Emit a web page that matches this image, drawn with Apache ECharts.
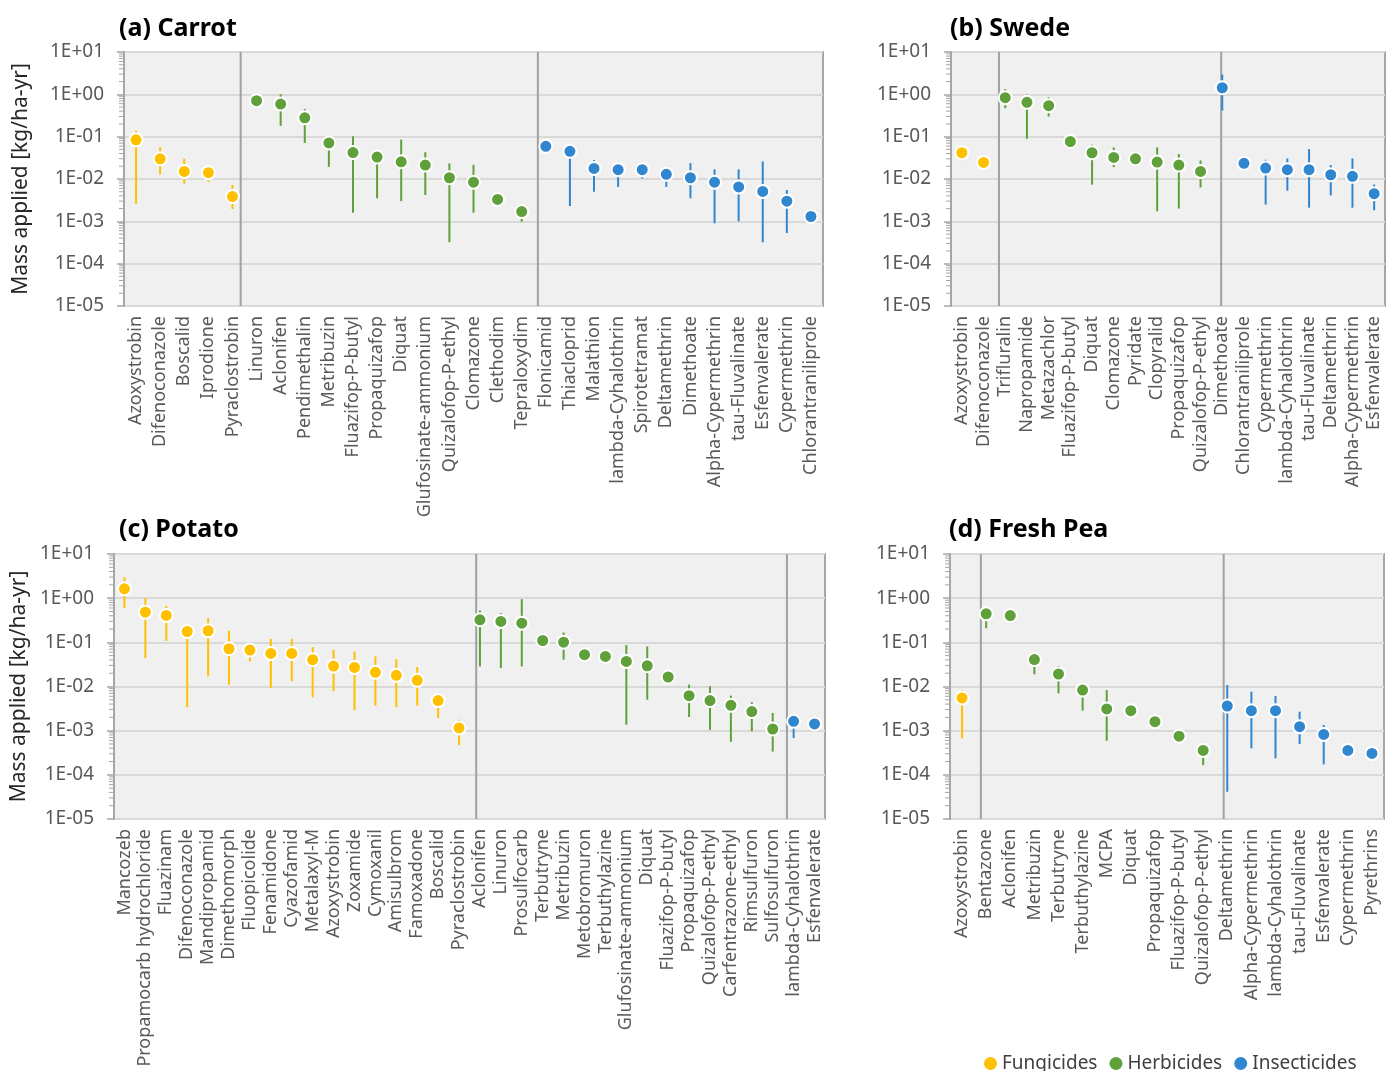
<!DOCTYPE html>
<html><head><meta charset="utf-8">
<script src="https://cdn.jsdelivr.net/npm/echarts@6/dist/echarts.min.js"></script>
<style>html,body{margin:0;padding:0;background:#fff}#c{width:1386px;height:1071px}</style>
</head><body><div id="c"></div>
<script>
// ---------- DATA ----------
const classNames = ['Fungicides', 'Herbicides', 'Insecticides'];

// (a) Carrot
const carrotCategories = ['Azoxystrobin','Difenoconazole','Boscalid','Iprodione','Pyraclostrobin','Linuron','Aclonifen','Pendimethalin','Metribuzin','Fluazifop-P-butyl','Propaquizafop','Diquat','Glufosinate-ammonium','Quizalofop-P-ethyl','Clomazone','Clethodim','Tepraloxydim','Flonicamid','Thiacloprid','Malathion','lambda-Cyhalothrin','Spirotetramat','Deltamethrin','Dimethoate','Alpha-Cypermethrin','tau-Fluvalinate','Esfenvalerate','Cypermethrin','Chlorantraniliprole'];
const carrotGroups = [5, 12, 12];
const carrotValues = [0.084,0.030,0.0151,0.0141,0.00385, 0.71,0.59,0.279,0.071,0.042,0.033,0.0255,0.0213,0.0107,0.0084,0.0033,0.0017, 0.059,0.045,0.0178,0.0166,0.0166,0.0129,0.0107,0.0084,0.0065,0.0051,0.0030,0.0013];
const carrotLow  = [0.0026,0.0129,0.0078,0.0085,0.00195, null,0.18,0.071,0.0194,0.0016,0.0035,0.0030,0.0042,0.00032,0.0016,null,0.00098, null,0.0023,0.0050,0.0065,0.0104,0.0065,0.0035,0.0009,0.0010,0.00032,0.00053,null];
const carrotHigh = [0.138,0.056,0.030,0.018,0.0072, null,1.0,0.45,0.09,0.102,0.04,0.085,0.043,0.0233,0.0217,null,0.0019, null,0.05,0.0279,0.02,0.019,0.015,0.0237,0.0169,0.0169,0.026,0.0055,null];
const carrotSeparators = [4.34, 16.67];

// (b) Swede
const swedeCategories = ['Azoxystrobin','Difenoconazole','Trifluralin','Napropamide','Metazachlor','Fluazifop-P-butyl','Diquat','Clomazone','Pyridate','Clopyralid','Propaquizafop','Quizalofop-P-ethyl','Dimethoate','Chlorantraniliprole','Cypermethrin','lambda-Cyhalothrin','tau-Fluvalinate','Deltamethrin','Alpha-Cypermethrin','Esfenvalerate'];
const swedeGroups = [2, 10, 8];
const swedeValues = [0.0417,0.0247, 0.835,0.648,0.541,0.0769,0.0417,0.0323,0.030,0.0251,0.0213,0.0151, 1.43,0.0234,0.0181,0.0166,0.0166,0.0126,0.0116,0.0045];
const swedeLow  = [0.0275,null, 0.47,0.089,0.298,null,0.00736,0.0191,null,0.00173,0.0020,0.0063, 0.413,null,0.00249,0.0053,0.0021,0.0041,0.0021,0.00183];
const swedeHigh = [0.05,null, 1.33,1.0,0.85,null,0.0645,0.0556,null,0.0556,0.0387,0.0274, 2.95,null,0.0285,0.0306,0.0508,0.0213,0.0306,0.0074];
const swedeSeparators = [1.71, 11.95];

// (c) Potato
const potatoCategories = ['Mancozeb','Propamocarb hydrochloride','Fluazinam','Difenoconazole','Mandipropamid','Dimethomorph','Fluopicolide','Fenamidone','Cyazofamid','Metalaxyl-M','Azoxystrobin','Zoxamide','Cymoxanil','Amisulbrom','Famoxadone','Boscalid','Pyraclostrobin','Aclonifen','Linuron','Prosulfocarb','Terbutryne','Metribuzin','Metobromuron','Terbuthylazine','Glufosinate-ammonium','Diquat','Fluazifop-P-butyl','Propaquizafop','Quizalofop-P-ethyl','Carfentrazone-ethyl','Rimsulfuron','Sulfosulfuron','lambda-Cyhalothrin','Esfenvalerate'];
const potatoGroups = [17, 15, 2];
const potatoValues = [1.63,0.483,0.406,0.176,0.183,0.0716,0.0667,0.056,0.056,0.0404,0.029,0.0271,0.0209,0.0179,0.0138,0.0048,0.00115, 0.324,0.297,0.272,0.110,0.101,0.0524,0.048,0.037,0.0295,0.0164,0.0062,0.0048,0.00374,0.0027,0.00109, 0.00163,0.00142];
const potatoLow  = [0.594,0.044,0.108,0.0034,0.0169,0.011,0.037,0.0092,0.0131,0.0057,0.0078,0.0029,0.0037,0.0034,0.0037,0.00194,0.00047, 0.0285,0.0261,0.0285,null,0.0404,null,null,0.00137,0.00503,null,0.00204,0.00105,0.00056,0.00097,0.000336, 0.00068,null];
const potatoHigh = [2.98,1.0,0.67,0.2,0.353,0.183,0.08,0.12,0.12,0.078,0.068,0.062,0.048,0.0418,0.0275,0.006,0.00178, 0.526,0.458,0.95,null,0.167,null,null,0.0866,0.0807,null,0.011,0.0101,0.0062,0.0044,0.00251, 0.002,null];
const potatoSeparators = [16.82, 31.68];

// (d) Fresh Pea
const peaCategories = ['Azoxystrobin','Bentazone','Aclonifen','Metribuzin','Terbutryne','Terbuthylazine','MCPA','Diquat','Propaquizafop','Fluazifop-P-butyl','Quizalofop-P-ethyl','Deltamethrin','Alpha-Cypermethrin','lambda-Cyhalothrin','tau-Fluvalinate','Esfenvalerate','Cypermethrin','Pyrethrins'];
const peaGroups = [1, 10, 7];
const peaValues = [0.0055, 0.441,0.404,0.0407,0.0192,0.0083,0.0031,0.00284,0.0016,0.00075,0.000357, 0.00362,0.00284,0.00284,0.00123,0.00082,0.000357,0.000306];
const peaLow  = [0.00067, 0.209,null,0.0189,0.0070,0.00284,0.00059,null,null,null,0.000166, 0.0000413,0.000398,0.000236,0.000498,0.000172,0.00024,null];
const peaHigh = [0.0083, 0.5,null,0.05,0.0292,0.01,0.0083,null,null,null,0.0004, 0.0108,0.00765,0.0061,0.00269,0.00134,0.0004,null];
const peaSeparators = [0.78, 10.85];

// ---------- STYLE / LAYOUT ----------
const FONT = 'Noto Sans';
const classColors = ['#FFC000', '#5FA03A', '#3087CF'];
const yName = 'Mass applied [kg/ha-yr]';

const panels = [
  {title:'(a) Carrot', cats:carrotCategories, groups:carrotGroups, vals:carrotValues, lo:carrotLow, hi:carrotHigh, seps:carrotSeparators,
   grid:{left:124, top:52, width:699, height:254}, titlePos:{left:119, top:16}, showName:true, nameGap:92},
  {title:'(b) Swede', cats:swedeCategories, groups:swedeGroups, vals:swedeValues, lo:swedeLow, hi:swedeHigh, seps:swedeSeparators,
   grid:{left:951, top:52, width:434, height:254}, titlePos:{left:950, top:16}, showName:false},
  {title:'(c) Potato', cats:potatoCategories, groups:potatoGroups, vals:potatoValues, lo:potatoLow, hi:potatoHigh, seps:potatoSeparators,
   grid:{left:114, top:554, width:711, height:265}, titlePos:{left:119, top:517}, showName:true, nameGap:82},
  {title:'(d) Fresh Pea', cats:peaCategories, groups:peaGroups, vals:peaValues, lo:peaLow, hi:peaHigh, seps:peaSeparators,
   grid:{left:950, top:554, width:434, height:265}, titlePos:{left:949, top:517}, showName:false}
];

function expLabel(v) {
  const e = Math.round(Math.log10(v));
  const s = e >= 0 ? '+' : '-';
  const a = Math.abs(e);
  return '1E' + s + (a < 10 ? '0' + a : a);
}

const minorTickValues = [];
for (let k = -5; k <= 0; k++) for (let m = 2; m <= 9; m++) minorTickValues.push(m * Math.pow(10, k));

const option = {
  animation: false,
  backgroundColor: '#ffffff',
  title: [], grid: [], xAxis: [], yAxis: [], series: [],
  legend: {
    data: classNames.map((n, i) => ({name: n, itemStyle: {color: classColors[i], borderWidth: 0}})),
    left: 979, top: 1049, icon: 'circle', itemWidth: 13, itemHeight: 13, itemGap: 12,
    textStyle: {fontFamily: FONT, fontSize: 19, color: '#404040'}
  }
};

panels.forEach((p, gi) => {
  option.title.push({text: p.title, left: p.titlePos.left, top: p.titlePos.top, padding: 0,
    textStyle: {fontFamily: FONT, fontWeight: 'bold', fontSize: 25, color: '#000'}});
  option.grid.push(Object.assign({show: true, backgroundColor: '#F0F0F0', borderColor: '#A6A6A6', borderWidth: 2}, p.grid));
  option.xAxis.push({type: 'category', gridIndex: gi, data: p.cats, boundaryGap: true,
    axisLine: {show: false}, axisTick: {show: false}, splitLine: {show: false},
    axisLabel: {interval: 0, rotate: 90, margin: 10, fontFamily: FONT, fontSize: 18, color: '#595959'}});
  option.yAxis.push({type: 'log', logBase: 10, min: 1e-5, max: 10, gridIndex: gi,
    name: p.showName ? yName : '', nameLocation: 'middle', nameGap: p.nameGap || 0,
    nameTextStyle: {fontFamily: FONT, fontSize: 21, color: '#262626'},
    axisLine: {show: true, lineStyle: {color: '#A6A6A6', width: 2}},
    axisTick: {show: true, length: 7, lineStyle: {color: '#A6A6A6', width: 1.5}},
    splitLine: {show: true, lineStyle: {color: '#D9D9D9', width: 2}},
    axisLabel: {formatter: expLabel, margin: 20, fontFamily: FONT, fontSize: 19, color: '#595959'}});

  // separators between pesticide classes
  const seps = p.seps;
  option.series.push({type: 'custom', xAxisIndex: gi, yAxisIndex: gi, silent: true, z: 1,
    data: seps.map(() => [0, 1]),
    encode: {x: 0, y: 1},
    renderItem: function (params, api) {
      const pos = seps[params.dataIndex];
      const i = Math.floor(pos);
      const x = api.coord([i, 1])[0] + (pos - i) * api.size([1, 0])[0];
      const cs = params.coordSys;
      return {type: 'line', shape: {x1: x, y1: cs.y, x2: x, y2: cs.y + cs.height},
        style: {stroke: '#A0A0A0', lineWidth: 2}};
    }});

  // minor ticks on the log axis
  option.series.push({type: 'custom', xAxisIndex: gi, yAxisIndex: gi, silent: true, z: 1,
    data: minorTickValues.map(v => [0, v]), encode: {x: 0, y: 1},
    renderItem: function (params, api) {
      const y = api.coord([0, api.value(1)])[1];
      const x0 = params.coordSys.x;
      return {type: 'line', shape: {x1: x0 - 5, y1: y, x2: x0, y2: y},
        style: {stroke: '#A6A6A6', lineWidth: 1}};
    }});

  let start = 0;
  classNames.forEach((cls, ci) => {
    const n = p.groups[ci];
    const idxs = [];
    for (let i = start; i < start + n; i++) idxs.push(i);
    start += n;
    const color = classColors[ci];
    const barData = idxs.filter(i => p.lo[i] != null).map(i => [i, p.lo[i], p.hi[i]]);
    option.series.push({type: 'custom', xAxisIndex: gi, yAxisIndex: gi, z: 2, silent: true,
      data: barData, encode: {x: 0, y: [1, 2]},
      renderItem: function (params, api) {
        const x = api.coord([api.value(0), 1])[0];
        const y1 = api.coord([api.value(0), api.value(1)])[1];
        const y2 = api.coord([api.value(0), api.value(2)])[1];
        return {type: 'line', shape: {x1: x, y1: y1, x2: x, y2: y2}, style: {stroke: color, lineWidth: 2}};
      }});
    option.series.push({type: 'scatter', name: cls, xAxisIndex: gi, yAxisIndex: gi, z: 3,
      symbol: 'circle', symbolSize: 13,
      itemStyle: {color: color, borderColor: '#ffffff', borderWidth: 2, opacity: 1},
      data: idxs.map(i => [i, p.vals[i]])});
  });
});

const chart = echarts.init(document.getElementById('c'), null, {renderer: 'canvas'});
chart.setOption(option);
</script>
</body></html>
